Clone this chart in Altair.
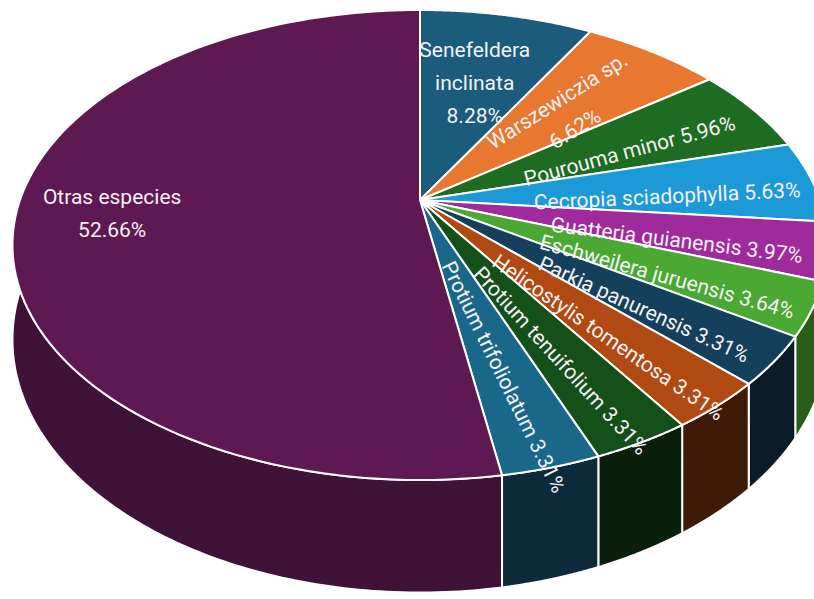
import altair as alt
import pandas as pd

# ---- data ----
species = [
    "Senefeldera\ninclinata", "Warszewiczia sp.", "Pourouma minor ", "Cecropia sciadophylla ",
    "Guatteria guianensis", "Eschweilera juruensis ", "Parkia panurensis ", "Helicostylis tomentosa",
    "Protium tenuifolium", "Protium trifoliolatum", "Otras especies",
]
percent = [8.28, 6.62, 5.96, 5.63, 3.97, 3.64, 3.31, 3.31, 3.31, 3.31, 52.66]
line_break = [True, True, False, False, False, False, False, False, False, False, True]
top_colors = ["#1b5b7c", "#e8782f", "#1e6b22", "#1b9ad7", "#9e2a9c", "#4aa833",
              "#15405b", "#b04a12", "#154f1a", "#1a6889", "#5e1953"]
side_colors = ["#0c2838", "#6a3410", "#0f3a12", "#0c4a6a", "#4a1048", "#2a5c1a",
               "#0a1c28", "#3e1a08", "#0a1f0c", "#0c2a3a", "#3f1237"]

labels = [f"{n}{chr(10) if b else ' '}{p:.2f}%" for n, p, b in zip(species, percent, line_break)]
df = pd.DataFrame({
    "idx": list(range(len(species))),
    "name": [s.replace("\n", " ") for s in species],
    "pct": percent,
    "label": labels,
    "top": top_colors,
    "side": side_colors,
})

# ---- projection of the tilted disc (perspective) ----
CX, CY, A, B, K, T = 420, 200, 400, 226.4, 0.1915, 91
N = 120
LH = 33

def proj_x(X, Z):
    return f"{CX} + {A}*({X})/(1 + {K}*({Z}))"

def proj_y(Z, bot="0"):
    return f"{CY} - {B}*({Z})/(1 + {K}*({Z})) + ({bot})*{T}/(1 + {K}*({Z}))"

xs = alt.Scale(domain=[0, 814])
ys = alt.Scale(domain=[599, 0])

base = alt.Chart(df).transform_window(
    cum="sum(pct)", sort=[alt.SortField("idx")], frame=[None, 0]
).transform_calculate(
    t0="(datum.cum - datum.pct) / 100 * 2 * PI",
    t1="datum.cum / 100 * 2 * PI",
)

# side walls (front half only)
side = base.transform_calculate(
    a0="max(datum.t0, PI / 2)", a1="min(datum.t1, 3 * PI / 2)"
).transform_filter("datum.a1 > datum.a0").transform_calculate(
    k=f"sequence(0, {2 * N + 1})"
).transform_flatten(["k"]).transform_calculate(
    j=f"datum.k < {N} ? datum.k : (datum.k < {2 * N} ? {2 * N - 1} - datum.k : 0)",
    bot=f"(datum.k >= {N} && datum.k < {2 * N}) ? 1 : 0",
).transform_calculate(
    th=f"datum.a0 + (datum.a1 - datum.a0) * datum.j / {N - 1}"
).transform_calculate(
    X="sin(datum.th)", Z="cos(datum.th)"
).transform_calculate(
    px=proj_x("datum.X", "datum.Z"), py=proj_y("datum.Z", "datum.bot")
).mark_line(filled=True, stroke="white", strokeWidth=2, strokeJoin="round", clip=True).encode(
    x=alt.X("px:Q", scale=xs, axis=None),
    y=alt.Y("py:Q", scale=ys, axis=None),
    detail="name:N",
    order="k:Q",
    color=alt.Color("side:N", scale=None),
)

# top faces
top = base.transform_calculate(
    k=f"sequence(0, {N + 2})"
).transform_flatten(["k"]).transform_calculate(
    th=f"datum.t0 + (datum.t1 - datum.t0) * min(max(datum.k - 1, 0), {N - 1}) / {N - 1}",
    apex=f"(datum.k == 0 || datum.k == {N + 1}) ? 1 : 0",
).transform_calculate(
    X="datum.apex ? 0 : sin(datum.th)", Z="datum.apex ? 0 : cos(datum.th)"
).transform_calculate(
    px=proj_x("datum.X", "datum.Z"), py=proj_y("datum.Z")
).mark_line(filled=True, stroke="white", strokeWidth=2, strokeJoin="round", clip=True).encode(
    x=alt.X("px:Q", scale=xs, axis=None),
    y=alt.Y("py:Q", scale=ys, axis=None),
    detail="name:N",
    order="k:Q",
    color=alt.Color("top:N", scale=None),
)

# labels along each slice's mid direction (small slices rotated radially)
text = base.transform_calculate(
    mid="(datum.t0 + datum.t1) / 2",
    f="datum.pct > 50 ? 0.76 : 0.63",
    rot="datum.pct < 7 ? 1 : 0",
    nl="length(split(datum.label, '\\n'))",
).transform_calculate(
    X="sin(datum.mid)", Z="cos(datum.mid)"
).transform_calculate(
    ox=proj_x("datum.X", "datum.Z"), oy=proj_y("datum.Z")
).transform_calculate(
    ang=f"datum.rot ? (atan2(datum.oy - {CY}, datum.ox - {CX}) * 180 / PI + 360) % 360 : 0",
    cx=f"{CX} + datum.f * (datum.ox - {CX})",
    cy=f"{CY} + datum.f * (datum.oy - {CY}) + datum.rot * 9",
).transform_calculate(
    h=f"(datum.nl - 1) * {LH} / 2",
    ar="datum.ang * PI / 180",
).transform_calculate(
    lx="datum.cx + sin(datum.ar) * datum.h",
    ly="datum.cy - cos(datum.ar) * datum.h",
).mark_text(
    font="Roboto", fontSize=21, color="#f4f0f4", lineBreak="\n", lineHeight=LH,
    align="center", baseline="middle",
).encode(
    x=alt.X("lx:Q", scale=xs, axis=None),
    y=alt.Y("ly:Q", scale=ys, axis=None),
    text="label:N",
    angle=alt.Angle("ang:Q", scale=None),
)

chart = alt.layer(side, top, text).properties(
    width=814, height=599, padding=0, autosize=alt.AutoSizeParams(type="none"),
    background="white",
).configure_view(stroke=None)

chart.save("out.html", embed_options={"renderer": "svg", "actions": False})
